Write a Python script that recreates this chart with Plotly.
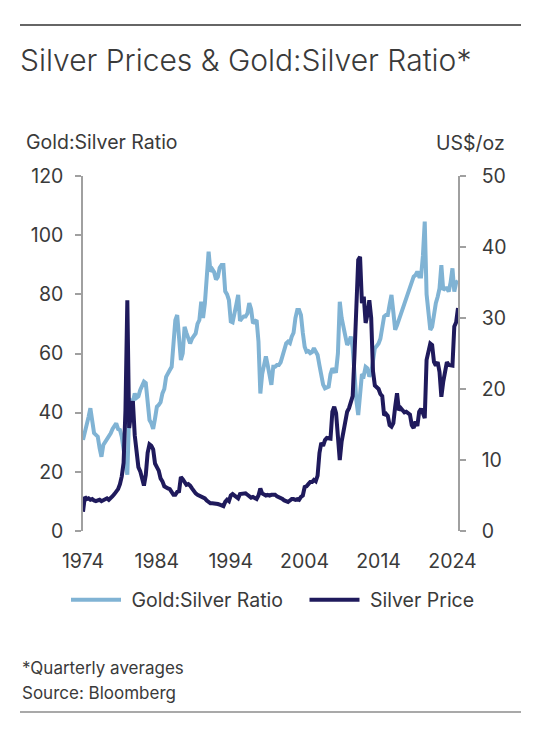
import pandas as pd
import plotly.graph_objects as go

# quarterly averages, 1974 Q1 .. 2024 Q4
ratio = [
    30.8, 33.0, 36.0, 38.5,   # 1974
    41.5, 36.4, 33.1, 32.5,   # 1975
    31.9, 28.0, 25.1, 29.1,   # 1976
    30.0, 31.0, 31.9, 33.0,   # 1977
    34.5, 35.3, 36.4, 34.5,   # 1978
    34.2, 31.9, 27.4, 24.0,   # 1979
    19.0, 40.0, 44.0, 43.5,   # 1980
    46.5, 45.0, 45.5, 47.7,   # 1981
    49.0, 50.5, 50.0, 44.3,   # 1982
    37.5, 36.4, 34.5, 38.0,   # 1983
    42.0, 42.6, 43.5, 46.5,   # 1984
    48.0, 52.1, 53.0, 54.4,   # 1985
    55.5, 63.0, 71.3, 73.0,   # 1986
    66.0, 57.8, 60.0, 69.0,   # 1987
    67.0, 65.0, 63.4, 65.0,   # 1988
    66.0, 66.8, 70.0, 71.3,   # 1989
    77.5, 72.0, 77.0, 87.0,   # 1990
    94.4, 87.7, 88.5, 87.5,   # 1991
    85.0, 85.9, 89.0, 89.9,   # 1992
    89.9, 81.0, 80.0, 78.0,   # 1993
    70.8, 70.5, 73.0, 76.5,   # 1994
    79.8, 71.0, 71.9, 72.5,   # 1995
    72.5, 73.5, 77.0, 75.0,   # 1996
    70.2, 71.0, 71.3, 64.0,   # 1997
    46.5, 53.0, 57.0, 59.0,   # 1998
    56.0, 53.0, 49.4, 55.5,   # 1999
    55.5, 56.1, 56.1, 57.0,   # 2000
    59.0, 61.0, 63.4, 64.0,   # 2001
    63.5, 65.7, 67.0, 72.0,   # 2002
    74.7, 74.7, 73.0, 67.0,   # 2003
    62.3, 60.6, 60.8, 60.1,   # 2004
    60.5, 61.8, 60.5, 59.5,   # 2005
    56.0, 52.7, 49.5, 48.2,   # 2006
    48.5, 48.8, 53.0, 55.0,   # 2007
    53.9, 54.0, 60.0, 77.5,   # 2008
    72.0, 68.5, 65.5, 62.9,   # 2009
    64.0, 65.7, 62.0, 51.6,   # 2010
    44.0, 39.2, 45.0, 53.0,   # 2011
    52.5, 55.5, 55.0, 52.2,   # 2012
    53.3, 58.0, 61.8, 62.5,   # 2013
    63.4, 65.0, 69.0, 72.5,   # 2014
    73.0, 73.0, 76.5, 79.8,   # 2015
    74.0, 68.0, 69.5, 71.3,   # 2016
    73.0, 74.7, 76.4, 78.0,   # 2017
    80.4, 82.0, 84.3, 86.0,   # 2018
    86.5, 87.7, 86.0, 86.0,   # 2019
    93.0, 104.6, 80.0, 75.0,  # 2020
    68.0, 69.0, 73.6, 77.0,   # 2021
    79.2, 82.0, 89.9, 81.5,   # 2022
    82.0, 82.1, 80.9, 84.0,   # 2023
    88.8, 80.9, 84.0, 84.5,   # 2024
]

silver = [
    2.7, 4.8, 4.5, 4.6,       # 1974
    4.4, 4.5, 4.3, 4.2,       # 1975
    4.3, 4.4, 4.2, 4.3,       # 1976
    4.5, 4.6, 4.4, 4.6,       # 1977
    4.9, 5.2, 5.5, 5.9,       # 1978
    6.6, 7.7, 9.6, 17.0,      # 1979
    32.5, 14.5, 16.5, 18.3,   # 1980
    13.5, 10.5, 9.0, 8.4,     # 1981
    7.5, 6.4, 7.9, 11.0,      # 1982
    12.2, 12.0, 11.5, 9.5,    # 1983
    9.0, 8.5, 7.4, 7.0,       # 1984
    6.3, 6.1, 6.0, 5.9,       # 1985
    5.6, 5.1, 5.1, 5.5,       # 1986
    5.6, 7.6, 7.3, 6.9,       # 1987
    6.5, 6.6, 6.4, 6.0,       # 1988
    5.6, 5.3, 5.1, 5.0,       # 1989
    4.9, 4.8, 4.6, 4.3,       # 1990
    4.0, 3.9, 3.9, 3.9,       # 1991
    3.9, 3.8, 3.7, 3.6,       # 1992
    3.5, 4.1, 4.4, 4.2,       # 1993
    5.0, 5.2, 5.0, 4.8,       # 1994
    4.6, 5.2, 5.2, 5.2,       # 1995
    5.3, 5.1, 4.9, 4.7,       # 1996
    4.8, 4.6, 4.5, 5.0,       # 1997
    6.0, 5.3, 5.1, 5.0,       # 1998
    5.1, 5.0, 5.1, 5.1,       # 1999
    5.1, 4.9, 4.8, 4.6,       # 2000
    4.5, 4.3, 4.2, 4.1,       # 2001
    4.3, 4.5, 4.5, 4.4,       # 2002
    4.5, 4.4, 4.8, 5.0,       # 2003
    6.2, 6.3, 6.6, 6.9,       # 2004
    6.9, 7.2, 7.0, 7.8,       # 2005
    11.0, 12.4, 12.0, 12.8,   # 2006
    13.1, 13.1, 13.0, 16.8,   # 2007
    17.5, 16.6, 13.5, 10.0,   # 2008
    12.6, 13.8, 15.2, 16.8,   # 2009
    17.3, 18.3, 19.0, 25.0,   # 2010
    31.7, 38.2, 38.6, 32.1,   # 2011
    33.0, 29.3, 30.5, 32.5,   # 2012
    30.0, 22.5, 20.5, 20.3,   # 2013
    20.0, 19.3, 19.0, 16.3,   # 2014
    16.5, 16.2, 14.9, 14.7,   # 2015
    15.2, 17.5, 19.4, 17.0,   # 2016
    17.3, 17.0, 16.7, 16.8,   # 2017
    16.6, 16.4, 14.9, 14.5,   # 2018
    15.4, 14.8, 16.8, 17.2,   # 2019
    16.6, 15.9, 24.1, 25.0,   # 2020
    26.4, 26.2, 23.8, 23.3,   # 2021
    23.8, 22.4, 18.9, 21.0,   # 2022
    22.2, 23.8, 23.4, 23.3,   # 2023
    23.3, 28.8, 29.4, 31.4,   # 2024
]

tick_years = [1974, 1984, 1994, 2004, 2014, 2024]
ratio_ticks = [0, 20, 40, 60, 80, 100, 120]
price_ticks = [0, 10, 20, 30, 40, 50]

quarters = pd.date_range("1974-01-01", periods=len(ratio), freq="QS")

W, H = 542, 729
OFF = 8  # page body margin: figure starts 8px in from the window edge
# plot area wanted at page x 83..458, y 176..531
L, T = 83 - OFF, 176 - OFF
R = W - (458 - OFF)
B = H - (531 - OFF)
FONT = "Inter, Roboto, sans-serif"
FS = 19.5
TXT = "#3a3a3a"
AXIS = "#a0a0a0"
LIGHT = "#80b3d4"
NAVY = "#1f1a5c"
NB = "\u00a0"


def px(x):
    # page pixel x -> paper coordinate
    return (x - OFF - L) / (W - L - R)


def py(y):
    # page pixel y -> paper coordinate
    return (H - B - (y - OFF)) / (H - T - B)


fig = go.Figure()
fig.add_trace(go.Scatter(x=quarters, y=ratio, name=NB + "Gold:Silver Ratio" + NB * 3,
                         mode="lines", line=dict(color=LIGHT, width=4), yaxis="y"))
fig.add_trace(go.Scatter(x=quarters, y=silver, name=NB + "Silver Price",
                         mode="lines", line=dict(color=NAVY, width=4), yaxis="y2"))

yax = dict(showgrid=False, zeroline=False, showline=True, linecolor=AXIS, linewidth=1.5,
           ticks="outside", ticklen=6, tickwidth=1.5, tickcolor=AXIS,
           tickfont=dict(size=FS, color=TXT, family=FONT))

fig.update_layout(
    width=W, height=H,
    margin=dict(l=L, r=R, t=T, b=B, pad=0),
    paper_bgcolor="white", plot_bgcolor="white",
    font=dict(family=FONT, color=TXT),
    title=dict(text="Silver Prices & Gold:Silver Ratio*", x=(20 - OFF) / W, xanchor="left",
               y=1 - (60 - OFF) / H, yanchor="middle", yref="container",
               font=dict(size=30, color=TXT, family=FONT, weight=300)),
    xaxis=dict(range=[quarters[0], quarters[-1]], showgrid=False, zeroline=False,
               showline=False, ticks="",
               tickvals=[f"{y}-01-01" for y in tick_years],
               ticktext=[str(y) for y in tick_years],
               ticklabelstandoff=16, tickfont=dict(size=FS, color=TXT, family=FONT)),
    yaxis=dict(range=[0, 120], tickvals=ratio_ticks, side="left", ticklabelstandoff=8, **yax),
    yaxis2=dict(range=[0, 50], tickvals=price_ticks, side="right", overlaying="y",
                ticklabelstandoff=12, **yax),
    showlegend=True,
    legend=dict(orientation="h", x=px(66), xanchor="left", y=py(600), yanchor="middle",
                font=dict(size=FS, color=TXT, family=FONT), itemwidth=50,
                bgcolor="rgba(0,0,0,0)"),
)

fig.add_annotation(text="Gold:Silver Ratio", x=px(24), y=py(142), xref="paper", yref="paper",
                   xanchor="left", yanchor="middle", showarrow=False,
                   font=dict(size=FS, color=TXT, family=FONT))
fig.add_annotation(text="US$/oz", x=px(507), y=py(143), xref="paper", yref="paper",
                   xanchor="right", yanchor="middle", showarrow=False,
                   font=dict(size=FS, color=TXT, family=FONT))
fig.add_annotation(text="*Quarterly averages", x=px(20), y=py(668), xref="paper", yref="paper",
                   xanchor="left", yanchor="middle", showarrow=False,
                   font=dict(size=17, color=TXT, family=FONT))
fig.add_annotation(text="Source: Bloomberg", x=px(20), y=py(693), xref="paper", yref="paper",
                   xanchor="left", yanchor="middle", showarrow=False,
                   font=dict(size=17, color=TXT, family=FONT))

# rules above the title and below the source line
fig.add_shape(type="line", xref="paper", yref="paper", x0=px(20), x1=px(521),
              y0=py(25), y1=py(25), line=dict(color="#333333", width=1.5))
fig.add_shape(type="line", xref="paper", yref="paper", x0=px(20), x1=px(521),
              y0=py(712), y1=py(712), line=dict(color="#8c8c8c", width=1.5))

fig.write_html("out.html")
